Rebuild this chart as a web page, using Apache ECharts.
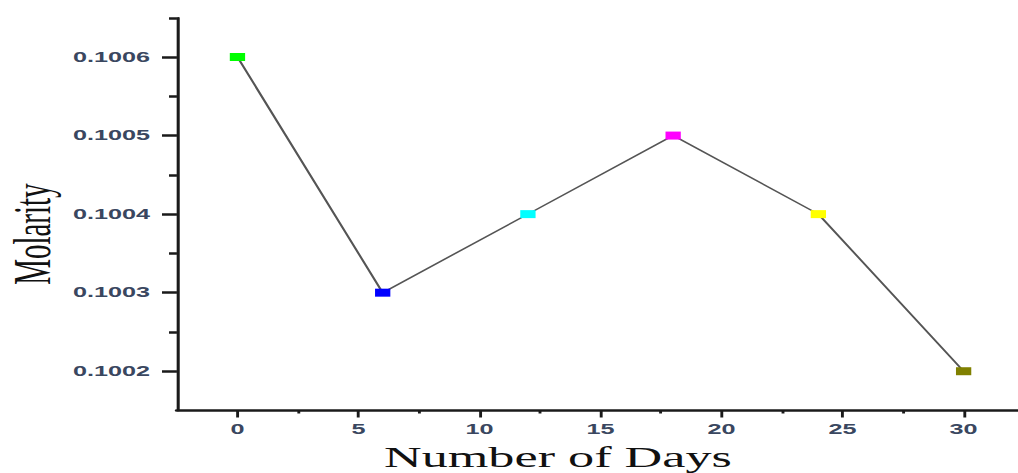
<!DOCTYPE html>
<html>
<head>
<meta charset="utf-8">
<script src="https://cdn.jsdelivr.net/npm/echarts@6/dist/echarts.min.js"></script>
<style>
  html, body { margin: 0; padding: 0; background: #fff; overflow: hidden; }
  /* the source figure is stretched sideways, so the chart is drawn narrow and widened */
  #chart { width: 565.56px; height: 473px; transform: scaleX(1.8); transform-origin: 0 0; }
</style>
</head>
<body>
<div id="chart"></div>
<script>
const days = [0, 6, 12, 18, 24, 30]
const molarity = [0.1006, 0.1003, 0.1004, 0.1005, 0.1004, 0.1002]
const pointColors = ['#00ff00', '#0000ff', '#00ffff', '#ff00ff', '#ffff00', '#808000']
const xMajorTicks = [0, 5, 10, 15, 20, 25, 30]
const xMinorTicks = [2.5, 7.5, 12.5, 17.5, 22.5, 27.5]
const yMajorTicks = [0.1002, 0.1003, 0.1004, 0.1005, 0.1006]
const yMinorTicks = [0.10025, 0.10035, 0.10045, 0.10055, 0.10065]

const chart = echarts.init(document.getElementById('chart'), null, { renderer: 'svg' })

const gridBox = { left: 98.3, top: 17.75, width: 467.3, height: 392.75, outerBoundsMode: 'none', containLabel: false }
const labelStyle = {
  fontFamily: 'Liberation Sans, Arial, sans-serif',
  fontSize: 14,
  fontWeight: 'bold',
  color: '#3a4760'
}
const xRange = { min: -2.5, max: 32.25 }
const yRange = { min: 0.10015, max: 0.10065 }

const option = {
  animation: false,
  grid: [
    Object.assign({}, gridBox),
    Object.assign({}, gridBox)
  ],
  xAxis: [
    {
      type: 'value',
      gridIndex: 0,
      min: xRange.min,
      max: xRange.max,
      name: 'Number of Days',
      nameLocation: 'middle',
      nameGap: 34,
      nameMoveOverlap: false,
      nameTextStyle: {
        fontFamily: 'Liberation Serif, Times New Roman, serif',
        fontSize: 29,
        lineHeight: 26,
        color: '#111',
        padding: [0, 44, 0, 0]
      },
      axisLine: { show: true, onZero: false, lineStyle: { color: '#1a1a1a', width: 2.5 } },
      axisTick: { show: true, customValues: xMajorTicks, length: 7, lineStyle: { color: '#1a1a1a', width: 1.6 } },
      axisLabel: Object.assign({ customValues: xMajorTicks, margin: 12 }, labelStyle),
      splitLine: { show: false }
    },
    {
      type: 'value',
      gridIndex: 1,
      min: xRange.min,
      max: xRange.max,
      axisLine: { show: false, onZero: false },
      axisTick: { show: true, customValues: xMinorTicks, length: 3, lineStyle: { color: '#1a1a1a', width: 1.6 } },
      axisLabel: { show: false },
      splitLine: { show: false }
    }
  ],
  yAxis: [
    {
      type: 'value',
      gridIndex: 0,
      min: yRange.min,
      max: yRange.max,
      name: 'Molarity',
      nameLocation: 'middle',
      nameGap: 66,
      nameMoveOverlap: false,
      nameTextStyle: {
        fontFamily: 'Liberation Serif, Times New Roman, serif',
        fontSize: 29,
        color: '#111',
        padding: [0, 40, 0, 0]
      },
      axisLine: { show: true, onZero: false, lineStyle: { color: '#1a1a1a', width: 1.7 } },
      axisTick: { show: true, customValues: yMajorTicks, length: 8.3, lineStyle: { color: '#1a1a1a', width: 2.5 } },
      axisLabel: Object.assign({
        customValues: yMajorTicks,
        margin: 15,
        formatter: function (v) { return v.toFixed(4) }
      }, labelStyle),
      splitLine: { show: false }
    },
    {
      type: 'value',
      gridIndex: 1,
      min: yRange.min,
      max: yRange.max,
      axisLine: { show: false, onZero: false },
      axisTick: { show: true, customValues: yMinorTicks, length: 4.4, lineStyle: { color: '#1a1a1a', width: 2.5 } },
      axisLabel: { show: false },
      splitLine: { show: false }
    }
  ],
  series: [
    {
      type: 'line',
      xAxisIndex: 0,
      yAxisIndex: 0,
      data: days.map(function (d, i) {
        return {
          value: [d, molarity[i]],
          itemStyle: { color: pointColors[i] }
        }
      }),
      symbol: 'rect',
      symbolSize: [8.5, 8],
      lineStyle: { color: '#555', width: 1.3 },
      z: 3
    }
  ]
}

chart.setOption(option)
</script>
</body>
</html>
